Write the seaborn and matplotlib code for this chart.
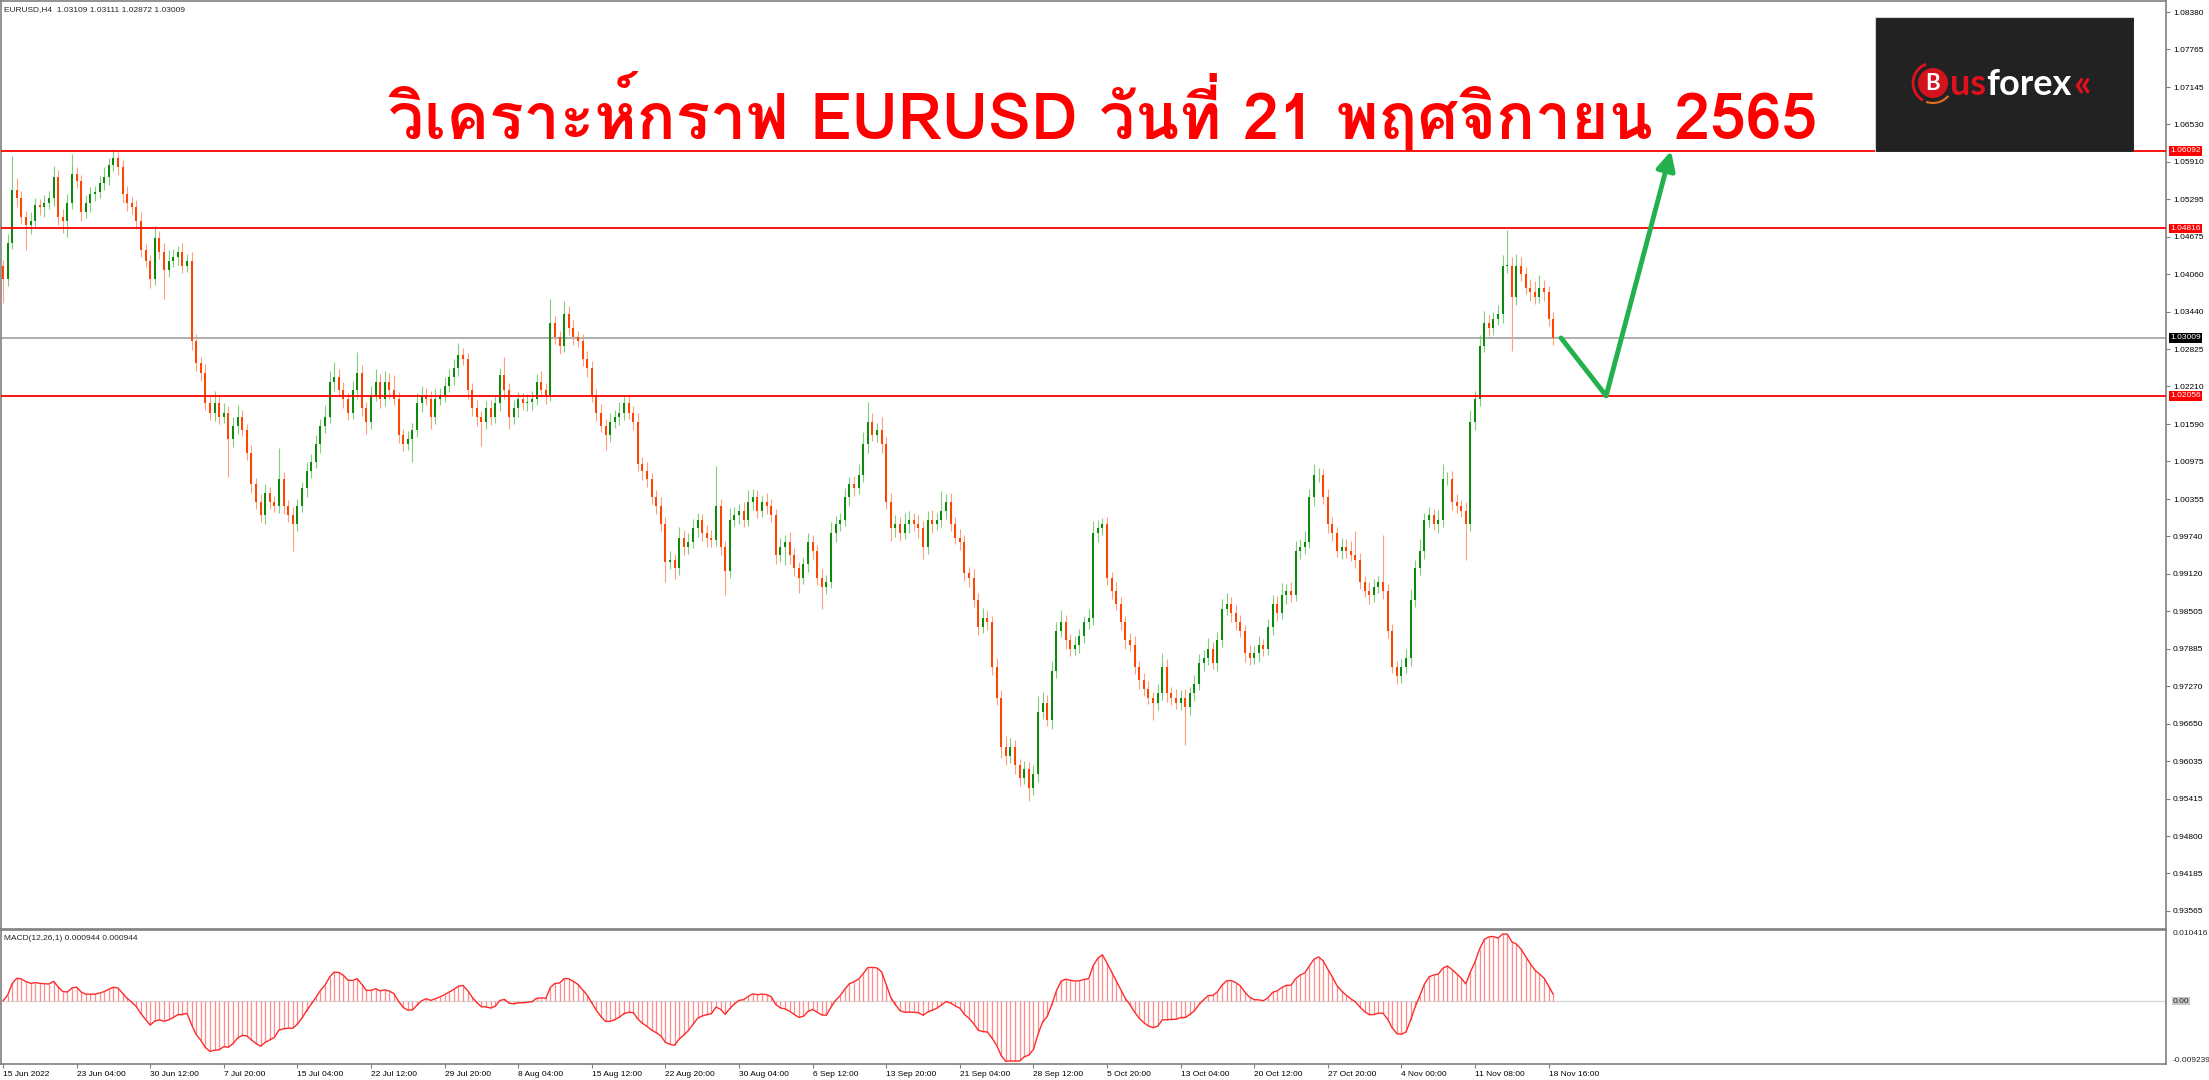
import numpy as np
import pandas as pd
import matplotlib
matplotlib.use("Agg")
import matplotlib.pyplot as plt
import matplotlib.transforms as mtransforms
from matplotlib.patches import Rectangle, Circle, Arc
from matplotlib import font_manager
from matplotlib.ft2font import FT2Font
import seaborn as sns

# ==============================
# DATA (EURUSD, one candle per 8 hours)
# ==============================

first_open = 1.0420

closes = [
    1.0398, 1.0457, 1.0545, 1.0531, 1.0501, 1.0487, 1.0494, 1.0520, 1.0516, 1.0523, 1.0531, 1.0567, 1.0501, 1.0494, 1.0523, 1.0571,
    1.0560, 1.0509, 1.0523, 1.0538, 1.0542, 1.0556, 1.0567, 1.0586, 1.0597, 1.0582, 1.0538, 1.0523, 1.0516, 1.0494, 1.0446, 1.0428,
    1.0398, 1.0465, 1.0443, 1.0413, 1.0428, 1.0435, 1.0443, 1.0420, 1.0428, 1.0296, 1.0259, 1.0244, 1.0193, 1.0178, 1.0193, 1.0171,
    1.0178, 1.0134, 1.0156, 1.0171, 1.0149, 1.0112, 1.0060, 1.0031, 1.0009, 1.0046, 1.0031, 1.0024, 1.0068, 1.0024, 1.0009, 0.9994,
    1.0024, 1.0053, 1.0082, 1.0097, 1.0126, 1.0156, 1.0171, 1.0229, 1.0237, 1.0215, 1.0200, 1.0178, 1.0215, 1.0244, 1.0185, 1.0163,
    1.0207, 1.0229, 1.0200, 1.0229, 1.0215, 1.0200, 1.0141, 1.0126, 1.0134, 1.0149, 1.0193, 1.0207, 1.0200, 1.0171, 1.0200, 1.0207,
    1.0222, 1.0237, 1.0251, 1.0273, 1.0266, 1.0215, 1.0185, 1.0171, 1.0163, 1.0185, 1.0171, 1.0193, 1.0240, 1.0215, 1.0171, 1.0185,
    1.0200, 1.0193, 1.0196, 1.0200, 1.0229, 1.0215, 1.0207, 1.0325, 1.0303, 1.0288, 1.0340, 1.0318, 1.0303, 1.0296, 1.0266, 1.0251,
    1.0207, 1.0178, 1.0156, 1.0141, 1.0163, 1.0171, 1.0178, 1.0193, 1.0178, 1.0163, 1.0093, 1.0082, 1.0068, 1.0038, 1.0024, 0.9994,
    0.9932, 0.9935, 0.9921, 0.9972, 0.9957, 0.9965, 0.9987, 1.0001, 0.9979, 0.9972, 0.9968, 1.0024, 0.9957, 0.9917, 1.0001, 1.0009,
    1.0016, 1.0001, 1.0031, 1.0038, 1.0016, 1.0031, 1.0024, 1.0009, 0.9943, 0.9957, 0.9965, 0.9943, 0.9921, 0.9906, 0.9928, 0.9965,
    0.9950, 0.9906, 0.9891, 0.9899, 0.9979, 0.9994, 1.0001, 1.0038, 1.0060, 1.0053, 1.0075, 1.0126, 1.0163, 1.0141, 1.0149, 1.0126,
    1.0031, 0.9987, 0.9994, 0.9979, 0.9994, 1.0001, 0.9994, 0.9987, 0.9957, 1.0001, 0.9994, 1.0001, 1.0016, 1.0031, 0.9994, 0.9972,
    0.9965, 0.9913, 0.9906, 0.9869, 0.9825, 0.9840, 0.9832, 0.9759, 0.9708, 0.9627, 0.9612, 0.9627, 0.9597, 0.9575, 0.9590, 0.9560,
    0.9583, 0.9685, 0.9700, 0.9671, 0.9752, 0.9818, 0.9832, 0.9803, 0.9788, 0.9795, 0.9810, 0.9832, 0.9840, 0.9979, 0.9987, 0.9994,
    0.9906, 0.9884, 0.9862, 0.9832, 0.9803, 0.9795, 0.9759, 0.9737, 0.9722, 0.9708, 0.9700, 0.9715, 0.9759, 0.9715, 0.9708, 0.9700,
    0.9708, 0.9693, 0.9715, 0.9730, 0.9766, 0.9774, 0.9788, 0.9766, 0.9803, 0.9854, 0.9862, 0.9847, 0.9832, 0.9818, 0.9781, 0.9774,
    0.9781, 0.9795, 0.9788, 0.9825, 0.9862, 0.9847, 0.9877, 0.9884, 0.9877, 0.9950, 0.9957, 0.9965, 1.0038, 1.0075, 1.0075, 1.0038,
    0.9994, 0.9979, 0.9950, 0.9957, 0.9950, 0.9943, 0.9935, 0.9899, 0.9884, 0.9877, 0.9891, 0.9899, 0.9884, 0.9818, 0.9759, 0.9744,
    0.9759, 0.9774, 0.9869, 0.9921, 0.9950, 1.0001, 1.0009, 0.9994, 1.0001, 1.0068, 1.0068, 1.0031, 1.0024, 1.0016, 0.9994, 1.0163,
    1.0200, 1.0288, 1.0325, 1.0318, 1.0332, 1.0340, 1.0420, 1.0420, 1.0369, 1.0420, 1.0406, 1.0384, 1.0376, 1.0369, 1.0384, 1.0376,
    1.0332, 1.0301,
]

# wick length above / below the candle body, in pips
upper_wick_pips = [
    10, 15, 56, 20, 12, 10, 15, 12, 10, 14, 12, 18, 10, 12, 15, 33,
    12, 10, 14, 12, 10, 12, 15, 12, 16, 10, 12, 14, 10, 12, 15, 10,
    10, 20, 12, 14, 18, 12, 10, 14, 12, 15, 12, 10, 14, 12, 20, 12,
    15, 10, 14, 20, 12, 10, 12, 10, 12, 14, 10, 10, 51, 12, 10, 14,
    12, 10, 14, 12, 15, 12, 20, 18, 25, 12, 14, 10, 15, 33, 12, 10,
    15, 20, 12, 18, 14, 25, 12, 10, 14, 12, 18, 15, 12, 14, 16, 12,
    14, 12, 15, 19, 12, 10, 12, 14, 10, 12, 14, 12, 11, 30, 12, 14,
    12, 10, 12, 14, 12, 18, 12, 40, 12, 10, 22, 14, 12, 10, 12, 14,
    12, 10, 14, 12, 15, 12, 18, 14, 12, 10, 15, 12, 14, 10, 12, 14,
    12, 15, 10, 18, 12, 14, 16, 12, 10, 14, 12, 66, 12, 10, 20, 14,
    12, 15, 20, 14, 12, 10, 14, 12, 10, 14, 12, 16, 12, 10, 12, 14,
    12, 10, 14, 12, 18, 14, 12, 15, 12, 14, 18, 20, 33, 14, 12, 22,
    12, 14, 15, 12, 18, 14, 12, 15, 12, 14, 16, 12, 33, 12, 14, 12,
    14, 12, 10, 14, 12, 16, 12, 10, 14, 12, 18, 14, 12, 10, 14, 12,
    14, 25, 18, 12, 16, 14, 20, 12, 10, 14, 12, 10, 14, 20, 14, 10,
    12, 10, 14, 12, 10, 12, 14, 10, 12, 14, 10, 16, 22, 12, 10, 14,
    12, 14, 10, 16, 14, 12, 18, 12, 14, 16, 18, 12, 14, 12, 10, 14,
    12, 14, 10, 12, 16, 14, 20, 12, 14, 16, 12, 18, 14, 18, 12, 10,
    14, 12, 10, 14, 12, 16, 40, 12, 10, 14, 12, 10, 77, 12, 12, 10,
    12, 14, 18, 14, 20, 12, 14, 10, 16, 25, 12, 14, 12, 10, 14, 20,
    14, 18, 20, 14, 12, 16, 18, 59, 14, 20, 14, 12, 14, 18, 20, 12,
    10, 12,
]

lower_wick_pips = [
    40, 12, 10, 15, 12, 41, 14, 10, 12, 15, 10, 12, 14, 20, 26, 10,
    12, 15, 10, 14, 12, 10, 12, 14, 10, 12, 15, 12, 10, 14, 12, 10,
    14, 10, 12, 48, 12, 10, 14, 12, 10, 15, 12, 14, 10, 12, 14, 12,
    10, 63, 12, 14, 10, 12, 15, 12, 11, 14, 12, 10, 12, 14, 12, 44,
    12, 10, 14, 12, 10, 14, 12, 10, 15, 12, 14, 12, 10, 14, 12, 20,
    12, 10, 14, 12, 15, 10, 14, 12, 10, 37, 12, 14, 10, 20, 12, 10,
    12, 10, 14, 12, 10, 14, 12, 15, 40, 12, 14, 10, 12, 14, 20, 12,
    14, 10, 12, 14, 10, 12, 15, 10, 12, 14, 10, 12, 14, 10, 12, 14,
    12, 14, 10, 25, 12, 10, 14, 12, 10, 14, 12, 15, 12, 10, 14, 12,
    33, 12, 18, 10, 14, 12, 10, 14, 12, 15, 12, 10, 14, 40, 12, 10,
    14, 12, 10, 14, 12, 10, 14, 12, 15, 12, 30, 14, 12, 25, 10, 12,
    14, 12, 37, 12, 10, 14, 12, 10, 14, 12, 10, 12, 14, 10, 12, 14,
    12, 20, 14, 12, 10, 14, 12, 15, 20, 12, 14, 10, 12, 14, 12, 10,
    14, 12, 15, 12, 14, 10, 12, 14, 12, 18, 15, 12, 14, 12, 10, 22,
    12, 14, 12, 10, 14, 12, 10, 14, 12, 10, 14, 12, 10, 12, 14, 10,
    12, 14, 10, 12, 14, 10, 12, 14, 12, 10, 29, 12, 10, 14, 12, 10,
    12, 63, 14, 12, 10, 14, 12, 10, 14, 12, 10, 14, 12, 10, 14, 12,
    10, 14, 12, 10, 14, 12, 10, 14, 12, 10, 14, 12, 10, 14, 12, 10,
    14, 12, 10, 14, 12, 10, 14, 12, 10, 14, 12, 10, 14, 12, 10, 14,
    12, 10, 14, 12, 10, 14, 12, 10, 14, 12, 10, 14, 12, 10, 59, 12,
    14, 12, 10, 14, 12, 10, 14, 12, 90, 14, 12, 10, 14, 12, 10, 14,
    12, 12,
]

date_labels = [
    "15 Jun 2022", "23 Jun 04:00", "30 Jun 12:00", "7 Jul 20:00", "15 Jul 04:00",
    "22 Jul 12:00", "29 Jul 20:00", "8 Aug 04:00", "15 Aug 12:00", "22 Aug 20:00",
    "30 Aug 04:00", "6 Sep 12:00", "13 Sep 20:00", "21 Sep 04:00", "28 Sep 12:00",
    "5 Oct 20:00", "13 Oct 04:00", "20 Oct 12:00", "27 Oct 20:00", "4 Nov 00:00",
    "11 Nov 08:00", "18 Nov 16:00",
]

price_ticks = [
    1.08380, 1.07765, 1.07145, 1.06530, 1.05910, 1.05295, 1.04675, 1.04060, 1.03440,
    1.02825, 1.02210, 1.01590, 1.00975, 1.00355, 0.99740, 0.99120, 0.98505, 0.97885,
    0.97270, 0.96650, 0.96035, 0.95415, 0.94800, 0.94185, 0.93565,
]

red_levels = [1.06092, 1.04816, 1.02056]
last_price = 1.03009
forecast_prices = [1.03009, 1.02056, 1.06092]

macd_top = 0.010416
macd_bottom = -0.009239

header_text = "EURUSD,H4  1.03109 1.03111 1.02872 1.03009"
macd_text = "MACD(12,26,1) 0.000944 0.000944"
title_text = "วิเคราะห์กราฟ EURUSD วันที่ 21 พฤศจิกายน 2565"

assert len(closes) == len(upper_wick_pips) == len(lower_wick_pips)

# ==============================
# OHLC + MACD
# ==============================

df = pd.DataFrame({"close": closes})
df["open"] = df["close"].shift(1).fillna(first_open)
df["high"] = df[["open", "close"]].max(axis=1) + np.array(upper_wick_pips) * 0.0001
df["low"] = df[["open", "close"]].min(axis=1) - np.array(lower_wick_pips) * 0.0001
df["x"] = np.arange(len(df))
df["up"] = df["close"] >= df["open"]

# MACD(12,26) on H4 -> spans 6/13 on 8-hour candles
ema_fast = df["close"].ewm(span=6, adjust=False).mean()
ema_slow = df["close"].ewm(span=13, adjust=False).mean()
df["macd"] = ema_fast - ema_slow

# ==============================
# FONTS
# ==============================

thai_font = None
for f in font_manager.fontManager.ttflist:
    try:
        if ord("ก") in FT2Font(f.fname).get_charmap():
            thai_font = f.name
            break
    except Exception:
        pass

sns.set_theme(style="white")
plt.rcParams["font.family"] = ["Liberation Sans", "DejaVu Sans"]

# ==============================
# FIGURE
# ==============================

W, H = 2209, 1080
fig = plt.figure(figsize=(W / 100, H / 100), dpi=100)

def fx(px):
    return px / W

def fy(py):
    return 1 - py / H

ax = fig.add_axes([fx(1), fy(929), fx(2165), 928 / H])
axm = fig.add_axes([fx(1), fy(1064), fx(2165), 134 / H])

bull_body, bear_body = "#0b8a0b", "#ff4500"
bull_wick, bear_wick = "#7fcf7f", "#ffa07a"

# wicks
ax.vlines(df["x"], df["low"], df["high"],
          colors=np.where(df["up"], bull_wick, bear_wick), linewidth=0.8, zorder=2)

# bodies
body = (df["close"] - df["open"]).abs().clip(lower=0.00008)
ax.bar(df["x"], body, bottom=df[["open", "close"]].min(axis=1), width=0.42,
       color=np.where(df["up"], bull_body, bear_body), linewidth=0, zorder=3)

# levels
for lvl in red_levels:
    ax.axhline(lvl, color="#ff0000", linewidth=1.3, zorder=4)
ax.axhline(last_price, color="#a0a0a0", linewidth=1.2, zorder=1)

# forecast path
last_x = df["x"].iloc[-1]
forecast_x = [last_x + 1.7, last_x + 11.5, last_x + 25.6]
sns.lineplot(x=forecast_x[:2], y=forecast_prices[:2], ax=ax, color="#22b14c",
             linewidth=3.5, zorder=6)
ax.annotate("", xy=(forecast_x[2], forecast_prices[2]), xytext=(forecast_x[1], forecast_prices[1]),
            arrowprops=dict(arrowstyle="-|>", color="#22b14c", lw=3.5, mutation_scale=28,
                            shrinkA=0, shrinkB=0), zorder=6)

x_left, x_right = -0.43, 470.2
ax.set_xlim(x_left, x_right)
ax.set_ylim(0.93268, 1.08563)
ax.set_xticks([])
ax.set_yticks(price_ticks)
ax.set_yticklabels([f"{p:.5f}" for p in price_ticks])
ax.yaxis.tick_right()
ax.tick_params(axis="y", right=True, left=False, labelright=True, labelleft=False,
               length=3, width=0.8, color="#808080", labelsize=6, pad=2, labelcolor="#000000")

# highlighted price labels
lbl_tr = mtransforms.blended_transform_factory(ax.transAxes, ax.transData)
for lvl in red_levels:
    ax.text(1.0018, lvl, f"{lvl:.5f}", transform=lbl_tr, fontsize=6, color="white",
            va="center", ha="left", zorder=10,
            bbox=dict(boxstyle="square,pad=0.15", facecolor="#ff0000", edgecolor="none"))
ax.text(1.0018, last_price, f"{last_price:.5f}", transform=lbl_tr, fontsize=6, color="white",
        va="center", ha="left", zorder=10,
        bbox=dict(boxstyle="square,pad=0.15", facecolor="#000000", edgecolor="none"))

ax.text(0.0015, 0.9945, header_text, transform=ax.transAxes, fontsize=6, va="top", ha="left")

# ==============================
# MACD PANEL
# ==============================

axm.vlines(df["x"], 0, df["macd"], colors="#ff8c8c", linewidth=0.9, zorder=2)
sns.lineplot(x=df["x"], y=df["macd"], ax=axm, color="#ff2a2a", linewidth=1.0, zorder=3)
axm.axhline(0, color="#d8d8d8", linewidth=1, zorder=1)
axm.set_xlim(x_left, x_right)
axm.set_ylim(macd_bottom, macd_top)
axm.set_yticks([])
axm.set_ylabel("")
axm.set_xlabel("")
axm.set_xticks(np.arange(len(date_labels)) * 16)
axm.set_xticklabels(date_labels)
axm.tick_params(axis="x", bottom=True, length=3, width=0.8, color="#808080",
                labelsize=6, pad=2, labelcolor="#000000")
for t in axm.get_xticklabels():
    t.set_horizontalalignment("left")

m_tr = mtransforms.blended_transform_factory(axm.transAxes, axm.transData)
axm.text(1.003, macd_top, f"{macd_top:.6f}", transform=m_tr, fontsize=6, va="top", ha="left")
axm.text(1.003, 0, "0.00", transform=m_tr, fontsize=6, va="center", ha="left",
         bbox=dict(boxstyle="square,pad=0.1", facecolor="#c8c8c8", edgecolor="none"))
axm.text(1.003, macd_bottom, f"{macd_bottom:.6f}", transform=m_tr, fontsize=6, va="bottom", ha="left")
axm.text(0.0015, 0.96, macd_text, transform=axm.transAxes, fontsize=6, va="top", ha="left")

for a in (ax, axm):
    for s in a.spines.values():
        s.set_color("#808080")
        s.set_linewidth(1.2)

# ==============================
# TITLE + LOGO
# ==============================

title_family = [thai_font, "DejaVu Sans"] if thai_font else ["DejaVu Sans"]
fig.text(fx(1103), fy(138), title_text, color="#ff0000", fontsize=46.3, fontweight="bold",
         ha="center", va="baseline", family=title_family, zorder=20)

# logo drawn in its own pixel-sized axes so the circle stays round
axl = fig.add_axes([fx(1875), fy(152), fx(259), 135 / H])
axl.set_xlim(0, 259)
axl.set_ylim(135, 0)
axl.axis("off")
axl.add_patch(Rectangle((0, 0), 259, 135, facecolor="#222222", edgecolor="#d0d0d0", linewidth=0.8))
axl.add_patch(Arc((58, 66), 40, 40, theta1=120, theta2=250, color="#e0101c", linewidth=2))
axl.add_patch(Arc((58, 66), 40, 40, theta1=40, theta2=110, color="#e07020", linewidth=1.5))
axl.add_patch(Circle((58, 66), 15, facecolor="#d3141e", edgecolor="none"))
logo_font = ["Lato", "DejaVu Sans"]
axl.text(58, 67, "B", color="white", fontsize=16, fontweight="bold",
         ha="center", va="center", family=logo_font)

renderer = fig.canvas.get_renderer()
inv = axl.transData.inverted()
t_us = axl.text(75, 78, "us", color="#e0101c", fontsize=26, fontweight="bold",
                ha="left", va="baseline", family=logo_font)
us_end = inv.transform(t_us.get_window_extent(renderer).get_points())[1][0]
t_fx = axl.text(us_end, 78, "forex", color="white", fontsize=26, fontweight="bold",
                ha="left", va="baseline", family=logo_font)
fx_end = inv.transform(t_fx.get_window_extent(renderer).get_points())[1][0]
axl.text(fx_end + 2, 78, "«", color="#e0101c", fontsize=28, fontweight="bold",
         ha="left", va="baseline", family=logo_font)

fig.savefig("out.png", dpi=100, facecolor="white")
